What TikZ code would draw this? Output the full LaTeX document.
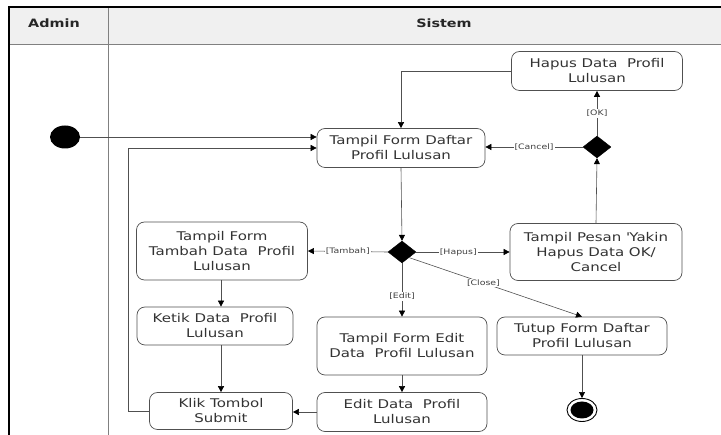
\documentclass[tikz,border=0pt]{standalone}
\usepackage{fontspec}
\setmainfont[FakeStretch=1.25]{DejaVu Sans}
\usetikzlibrary{arrows.meta,shapes.geometric}
\definecolor{linec}{HTML}{505050}
\definecolor{headfill}{HTML}{F0F0F0}
\begin{document}
\begin{tikzpicture}[x=1pt,y=-1pt,
  act/.style={draw=linec, line width=0.7pt, rounded corners=8pt, align=center,
    font=\fontsize{12}{15}\selectfont, text=black!80, inner sep=0pt},
  flow/.style={draw=linec, line width=0.6pt, -{Triangle[length=6pt,width=6pt,color=black]}},
  guard/.style={fill=white, font=\fontsize{7.5}{8}\selectfont, inner sep=1pt, text=black!75},
  dec/.style={diamond, fill=black, draw=black, minimum width=28pt, minimum height=22pt, inner sep=0pt},
  lane/.style={font=\bfseries\fontsize{11.5}{13}\selectfont, text=black!85}
]
\useasboundingbox (0,0) rectangle (721,435);
% swimlane frame
\fill[headfill] (9,7) rectangle (721,44);
\draw[gray, line width=0.7pt] (9,44) -- (721,44);
\draw[gray, line width=0.7pt] (108,7) -- (108,435);
\draw[black, line width=2.5pt] (9,435) -- (9,7) -- (721,7);
\node[lane] (admin) at (54,23) {Admin};
\node[lane] (sistem) at (444,23) {Sistem};

% nodes
\node[ellipse, fill=black, minimum width=30pt, minimum height=23pt, inner sep=0pt] (start) at (65,137) {};
\node[act, minimum width=168pt, minimum height=39pt] (tampil) at (401,148) {Tampil Form Daftar\\Profil Lulusan};
\node[act, minimum width=171pt, minimum height=39pt] (hapus) at (597,71) {Hapus Data\ \ Profil\\Lulusan};
\node[dec] (d1) at (597,147) {};
\node[dec] (d2) at (402,252) {};
\node[act, minimum width=171pt, minimum height=58pt] (tambah) at (222,251) {Tampil Form\\Tambah Data\ \ Profil\\Lulusan};
\node[act, minimum width=172pt, minimum height=57pt] (pesan) at (596,252) {Tampil Pesan \textquotesingle Yakin\\Hapus Data OK/\\Cancel};
\node[act, minimum width=156pt, minimum height=38pt] (ketik) at (215,326) {Ketik Data\ \ Profil\\Lulusan};
\node[act, minimum width=170pt, minimum height=58pt] (editform) at (402,346) {Tampil Form Edit\\Data\ \ Profil Lulusan};
\node[act, minimum width=170pt, minimum height=38pt] (tutup) at (582,336) {Tutup Form Daftar\\Profil Lulusan};
\node[act, minimum width=143pt, minimum height=37pt] (klik) at (221,411) {Klik Tombol\\Submit};
\node[act, minimum width=170pt, minimum height=39pt] (editdata) at (402,412) {Edit Data\ \ Profil\\Lulusan};
\node[ellipse, draw=black, line width=0.9pt, minimum width=30pt, minimum height=23pt, inner sep=0pt] (end) at (582,410) {};
\node[ellipse, fill=black, minimum width=23pt, minimum height=17pt, inner sep=0pt] (endin) at (end) {};
\coordinate (loop) at (128,411);

% connectors
\draw[flow] (start) -- (start -| tampil.west);
\draw[flow] (klik.west) -- (loop) |- (tampil.west);
\draw[flow] (hapus.west) -| (tampil.north);
\draw[flow] (d1.west) -- node[guard]{[Cancel]} (d1.west -| tampil.east);
\draw[flow] (d1.north) -- node[guard]{[OK]} (hapus.south);
\draw[flow] (pesan.north) -- (d1.south);
\draw[flow] (tampil.south) -- (d2.north);
\draw[flow] (d2.west) -- node[guard]{[Tambah]} (tambah.east);
\draw[flow] (d2.east) -- node[guard, pos=0.45]{[Hapus]} (pesan.west);
\draw[flow] (d2.south) -- node[guard, pos=0.62]{[Edit]} (editform.north);
\draw[flow] (d2.south east) -- node[guard, pos=0.43]{[Close]} (tutup.north);
\draw[flow] (tambah.south -| klik.north) -- (ketik.north -| klik.north);
\draw[flow] (ketik.south -| klik.north) -- (klik.north);
\draw[flow] (editform.south) -- (editdata.north);
\draw[flow] (editdata.west) -- (editdata.west -| klik.east);
\draw[flow] (tutup.south) -- (end.north);
\end{tikzpicture}
\end{document}
